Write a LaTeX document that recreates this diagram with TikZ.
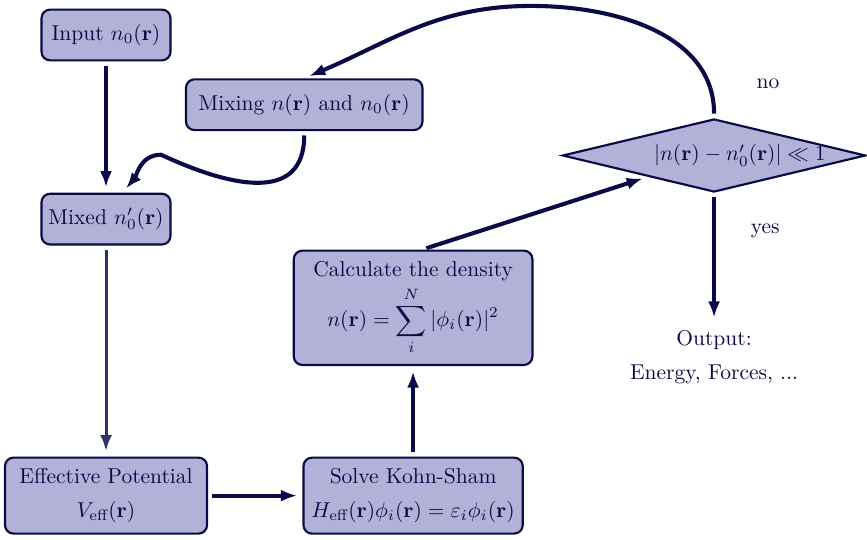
\documentclass[tikz,border=0pt]{standalone}
\usepackage{amsmath}
\usepackage{amssymb}
\usetikzlibrary{shapes.geometric,arrows.meta}
\definecolor{navy}{RGB}{10,10,72}
\definecolor{boxfill}{RGB}{178,178,216}
\definecolor{paleline}{RGB}{50,50,106}
\tikzset{every node/.style={align=center, text=navy}, >={Latex[length=7.5pt,width=5.6pt]},
  block/.style={rectangle, rounded corners=4pt, draw=navy, line width=1pt, fill=boxfill, inner xsep=2.5pt, inner ysep=5pt, minimum height=0.83cm},
  decision/.style={diamond, draw=navy, line width=1pt, fill=boxfill, aspect=4.2, inner xsep=-12pt, inner ysep=0pt, minimum width=141pt, minimum height=34pt},
  flow/.style={->, color=navy, line width=1.9pt, shorten >=2.5pt, shorten <=2pt}}

\begin{document}
\begin{tikzpicture}[node distance=3cm]
  \useasboundingbox (-1.733,-8.255) rectangle (12.44,0.572);
  \node[block, minimum width=60pt] (in) {Input $n_0(\mathbf{r})$};
  \node[block, minimum width=60pt] (mixed) [below of = in, node distance=3.01cm] {Mixed $n_0'(\mathbf{r})$};
  \node[block, minimum width=110pt] (mix) [right of = in, node distance=3.24cm, yshift=-1.14cm] {Mixing $n(\mathbf{r})$ and $n_0(\mathbf{r})$};
  \node[block, minimum width=94pt] (eff) [below of = mixed, node distance=4.52cm] {Effective Potential \\[3.8pt] $V_{\text{eff}}(\mathbf{r})$};
  \node[block, minimum width=102pt] (solve) [right of = eff, node distance=5.02cm] {Solve Kohn-Sham \\[3.8pt] $H_{\text{eff}}(\mathbf{r})\phi_i(\mathbf{r}) = \varepsilon_i\phi_i(\mathbf{r})$};
  \node[block, minimum width=111pt] (calc) [above of = solve, node distance=3.07cm] {Calculate the density \\[2pt] $\displaystyle n(\mathbf{r}) = \sum_i^N |\phi_i(\mathbf{r})|^2$};
  \node[decision] (dia) [right of = calc, node distance=4.92cm, yshift=2.49cm] {\hspace*{24pt}$|n(\mathbf{r}) - n_0'(\mathbf{r})| \ll 1$};
  \node (out) [below of = dia, node distance=3.30cm] {Output: \\[3.8pt] Energy, Forces, ...};
  \coordinate (top) at ([xshift=-2.99cm, yshift=1.83cm]dia.north);
  \coordinate (bump) at ([xshift=0.9cm, yshift=0.62cm]mixed.north);
  \path[flow] (in) edge (mixed)
      (eff) edge (solve)
      (solve) edge (calc)
      ([xshift=0.15cm]calc.north) edge (dia)
      (dia) edge node[pos=0.29, right=0.45cm] {yes} (out);
  \draw[flow, color=paleline, line width=1.4pt] (mixed) -- (eff);
  \draw[flow] (dia.north) to[out=90, in=0] node[pos=0.15, right=0.65cm] {no} (top) to[out=180, in=23] (mix.north);
  \draw[flow] (mix.south) to[out=-90, in=-25, looseness=1.3] (bump) to[out=180, in=50] ([xshift=0.27cm]mixed.north);
\end{tikzpicture}
\end{document}
